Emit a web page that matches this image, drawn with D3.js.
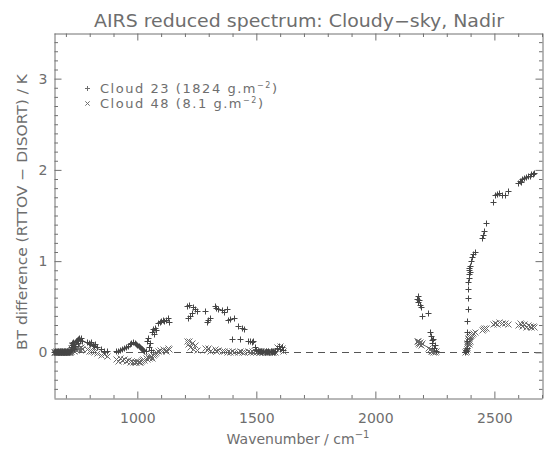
<!DOCTYPE html>
<html>
<head>
<meta charset="utf-8">
<script src="https://cdn.jsdelivr.net/npm/d3@7"></script>
<style>
  html, body { margin: 0; padding: 0; background: #fff; }
  svg { display: block; }
  text { font-family: "DejaVu Sans", sans-serif; fill: #6e6e6e; }
</style>
</head>
<body>
<svg id="chart" width="549" height="451"></svg>
<script>
// AIRS reduced channel set: wavenumber (cm-1)
const wavenumber = [
  651, 653, 655, 657, 659, 661, 663, 665, 667, 668, 670, 672, 674, 676, 678, 680, 682, 684,
  686, 688, 690, 692, 694, 696, 698, 700, 702, 704, 706, 708, 710, 712, 714, 716, 718,
  720, 722, 724, 726, 728, 730, 733, 736, 740, 743, 746, 749, 752, 756, 760, 764, 768,
  790, 795, 800, 806, 812, 818, 824, 830, 846, 858, 872,
  912, 920, 928, 936, 944, 952,
  960, 968, 975, 982, 990, 996, 1000, 1005, 1010, 1015, 1020, 1025, 1030, 1035, 1040, 1045,
  1050, 1055, 1058, 1062, 1066, 1070, 1075, 1080, 1088, 1094, 1100, 1106, 1112, 1120, 1128, 1135,
  1209, 1214, 1218, 1222, 1228, 1234, 1242, 1250,
  1284, 1292, 1298, 1305, 1326, 1332, 1340, 1356, 1365, 1375, 1380, 1388, 1398, 1405,
  1425, 1432, 1440, 1450, 1465, 1472, 1480, 1486, 1494,
  1500, 1505, 1510, 1515, 1520, 1525, 1530, 1535, 1540, 1545, 1550, 1555, 1560, 1565, 1570,
  1575, 1580, 1588, 1594, 1600, 1606, 1610,
  2175, 2178, 2181, 2184, 2187, 2192, 2196, 2221, 2228, 2232, 2236, 2240, 2244, 2248, 2252, 2256,
  2378, 2380, 2382, 2384, 2385, 2386, 2387, 2388, 2389, 2390, 2391, 2392, 2393, 2394, 2395, 2396,
  2398, 2400, 2404, 2410, 2418, 2448, 2452, 2456, 2465, 2494, 2503, 2510, 2520, 2530, 2544, 2557,
  2600, 2606, 2612, 2618, 2625, 2632, 2640, 2648, 2655, 2662, 2668
];

// BT difference RTTOV - DISORT (K), Cloud 23 (1824 g.m-2)
const cloud23 = [
  0.00, 0.00, 0.01, 0.00, 0.00, 0.01, 0.00, 0.00, 0.00, 0.01, 0.00, 0.00, 0.01, 0.00, 0.00, 0.00, 0.01, 0.00,
  0.00, 0.00, 0.01, 0.00, 0.00, 0.00, 0.01, 0.00, 0.00, 0.01, 0.00, 0.00, 0.01, 0.00, 0.00, 0.01, 0.02,
  0.03, 0.06, 0.10, 0.08, 0.11, 0.05, 0.09, 0.04, 0.07, 0.13, 0.14, 0.10, 0.15, 0.16, 0.14, 0.16, 0.13,
  0.11, 0.10, 0.09, 0.11, 0.08, 0.07, 0.09, 0.06, 0.04, 0.02, 0.01,
  0.01, 0.02, 0.03, 0.04, 0.05, 0.06,
  0.07, 0.09, 0.10, 0.11, 0.10, 0.09, 0.08, 0.07, 0.06, 0.05, 0.04, 0.03, 0.02, 0.01, 0.13, 0.16,
  0.06, 0.10, 0.03, 0.22, 0.26, 0.20, 0.27, 0.24, 0.32, 0.33, 0.34, 0.35, 0.34, 0.36, 0.38, 0.33,
  0.51, 0.38, 0.52, 0.40, 0.43, 0.50, 0.47, 0.45,
  0.45, 0.33, 0.36, 0.38, 0.51, 0.49, 0.48, 0.46, 0.44, 0.48, 0.36, 0.37, 0.15, 0.38,
  0.29, 0.15, 0.27, 0.26, 0.12, 0.13, 0.11, 0.12, 0.06,
  0.03, 0.02, 0.01, 0.02, 0.01, 0.00, 0.01, 0.00, 0.01, 0.00, 0.01, 0.00, 0.01, 0.00, 0.01,
  0.00, 0.01, 0.05, 0.07, 0.04, 0.06, 0.03,
  0.58, 0.62, 0.55, 0.57, 0.52, 0.50, 0.40, 0.43, 0.22, 0.18, 0.14, 0.10, 0.15, 0.05, 0.08, 0.02,
  0.00, 0.01, 0.03, 0.05, 0.12, 0.22, 0.34, 0.47, 0.60, 0.69, 0.77, 0.82, 0.86, 0.90, 0.93, 0.95,
  0.88, 1.00, 1.05, 1.08, 1.10, 1.25, 1.29, 1.33, 1.42, 1.65, 1.73, 1.74, 1.75, 1.72, 1.72, 1.77,
  1.86, 1.88, 1.87, 1.90, 1.91, 1.92, 1.93, 1.93, 1.95, 1.96, 1.97
];

// BT difference RTTOV - DISORT (K), Cloud 48 (8.1 g.m-2)
const cloud48 = [
  0.00, 0.00, 0.00, 0.01, 0.00, 0.00, 0.00, 0.01, 0.00, 0.00, 0.00, 0.01, 0.00, 0.00, 0.00, 0.01, 0.00, 0.00,
  0.01, 0.00, 0.00, 0.00, 0.01, 0.00, 0.00, 0.00, 0.01, 0.00, 0.00, 0.00, 0.01, 0.00, 0.00, 0.00, 0.01,
  0.02, 0.05, 0.08, 0.04, 0.06, 0.03, 0.07, 0.02, 0.05, 0.03, 0.06, 0.04, 0.08, 0.05, 0.03, 0.06, 0.04,
  0.04, 0.02, 0.03, 0.01, 0.02, 0.00, 0.01, -0.01, -0.03, -0.02, -0.04,
  -0.07, -0.09, -0.06, -0.08, -0.07, -0.09,
  -0.08, -0.10, -0.09, -0.10, -0.11, -0.10, -0.09, -0.11, -0.10, -0.09, -0.08, -0.07, -0.08, -0.06, -0.07, -0.05,
  -0.06, -0.05, -0.04, -0.06, -0.03, -0.02, -0.01, 0.00, 0.02, 0.03, 0.01, 0.04, 0.03, 0.02, 0.05, 0.04,
  0.12, 0.09, 0.13, 0.06, 0.10, 0.04, 0.08, 0.03,
  0.05, 0.03, 0.05, 0.02, 0.04, 0.02, 0.03, 0.01, 0.02, 0.00, 0.01, 0.00, 0.01, 0.00,
  0.00, 0.01, 0.00, 0.00, 0.01, 0.00, 0.01, 0.00, 0.01,
  0.00, 0.01, 0.00, 0.00, 0.01, 0.00, 0.00, 0.01, 0.00, 0.00, 0.00, 0.01, 0.00, 0.00, 0.00,
  0.01, 0.00, 0.06, 0.04, 0.07, 0.05, 0.02,
  0.12, 0.10, 0.13, 0.09, 0.11, 0.08, 0.10, 0.05, 0.04, 0.02, 0.03, 0.01, 0.00, 0.01, 0.00, 0.01,
  0.00, 0.01, 0.02, 0.04, 0.06, 0.08, 0.10, 0.12, 0.13, 0.15, 0.16, 0.17, 0.14, 0.11, 0.09, 0.12,
  0.18, 0.19, 0.20, 0.21, 0.22, 0.25, 0.26, 0.27, 0.27, 0.31, 0.32, 0.31, 0.33, 0.32, 0.32, 0.31,
  0.30, 0.32, 0.31, 0.29, 0.31, 0.28, 0.30, 0.29, 0.28, 0.29, 0.28
];

const xMajorTicks = [1000, 1500, 2000, 2500];
const yMajorTicks = [0, 1, 2, 3];

const svg = d3.select("#chart");
const plotLeft = 54, plotRight = 542, plotTop = 33, plotBottom = 398;

const x = d3.scaleLinear().domain([650, 2700]).range([plotLeft, plotRight]);
const y = d3.scaleLinear().domain([-0.5, 3.5]).range([plotBottom, plotTop]);

const axisColor = "#707070";
const markColor = "#454545";

// Title
svg.append("text")
  .attr("x", 299).attr("y", 27)
  .attr("text-anchor", "middle")
  .attr("font-size", 17)
  .attr("textLength", 410).attr("lengthAdjust", "spacingAndGlyphs")
  .attr("fill", "#7a7a7a")
  .text("AIRS reduced spectrum: Cloudy\u2212sky, Nadir");

// Zero reference line
svg.append("line")
  .attr("x1", plotLeft).attr("x2", plotRight)
  .attr("y1", Math.round(y(0)) + 0.5).attr("y2", Math.round(y(0)) + 0.5)
  .attr("stroke", "#555").attr("stroke-width", 1)
  .attr("stroke-dasharray", "7,5");

// Axes: inward ticks on all four sides
const xMinor = d3.range(700, 2701, 100).filter(v => !xMajorTicks.includes(v));
const yMinor = d3.range(-4, 35, 1).map(v => v / 10).filter(v => !yMajorTicks.includes(v));

function styleAxis(g) {
  g.select(".domain").attr("stroke", axisColor);
  g.selectAll(".tick line").attr("stroke", axisColor);
  g.selectAll(".tick text").attr("fill", "#777").attr("font-size", 14)
    .attr("font-family", "DejaVu Sans, sans-serif");
}

const gx = svg.append("g").attr("transform", `translate(0,${plotBottom + 0.5})`);
gx.call(d3.axisBottom(x).tickValues(xMinor).tickSize(-3.5).tickFormat("").tickSizeOuter(0)).call(styleAxis);
gx.append("g").call(d3.axisBottom(x).tickValues(xMajorTicks).tickSize(-7).tickPadding(15)
    .tickFormat(d3.format("d")).tickSizeOuter(0)).call(styleAxis)
  .call(g => g.select(".domain").remove());

const gxt = svg.append("g").attr("transform", `translate(0,${plotTop + 0.5})`);
gxt.call(d3.axisTop(x).tickValues(xMinor).tickSize(-3.5).tickFormat("").tickSizeOuter(0)).call(styleAxis);
gxt.append("g").call(d3.axisTop(x).tickValues(xMajorTicks).tickSize(-7).tickFormat("").tickSizeOuter(0)).call(styleAxis)
  .call(g => g.select(".domain").remove());

const gy = svg.append("g").attr("transform", `translate(${plotLeft + 0.5},0)`);
gy.call(d3.axisLeft(y).tickValues(yMinor).tickSize(-3.5).tickFormat("").tickSizeOuter(0)).call(styleAxis);
gy.append("g").call(d3.axisLeft(y).tickValues(yMajorTicks).tickSize(-7).tickPadding(7)
    .tickFormat(d3.format("d")).tickSizeOuter(0)).call(styleAxis)
  .call(g => g.select(".domain").remove());

const gyr = svg.append("g").attr("transform", `translate(${plotRight + 0.5},0)`);
gyr.call(d3.axisRight(y).tickValues(yMinor).tickSize(-3.5).tickFormat("").tickSizeOuter(0)).call(styleAxis);
gyr.append("g").call(d3.axisRight(y).tickValues(yMajorTicks).tickSize(-7).tickFormat("").tickSizeOuter(0)).call(styleAxis)
  .call(g => g.select(".domain").remove());

// Axis titles
const xt = svg.append("text")
  .attr("x", 298).attr("y", 444)
  .attr("text-anchor", "middle").attr("font-size", 14)
  .attr("fill", "#777");
xt.append("tspan").text("Wavenumber / cm");
xt.append("tspan").attr("dy", -6).attr("font-size", 10).text("\u22121");

svg.append("text")
  .attr("transform", "translate(27,212) rotate(-90)")
  .attr("text-anchor", "middle").attr("font-size", 14)
  .attr("textLength", 276).attr("lengthAdjust", "spacingAndGlyphs")
  .attr("fill", "#777")
  .text("BT difference (RTTOV \u2212 DISORT) / K");

// Marker shapes
const plusPath = s => `M${-s},0H${s}M0,${-s}V${s}`;
const crossPath = s => `M${-s},${-s}L${s},${s}M${-s},${s}L${s},${-s}`;

const plotArea = svg.append("g");
const pts23 = wavenumber.map((w, i) => [w, cloud23[i]]);
const pts48 = wavenumber.map((w, i) => [w, cloud48[i]]);

plotArea.selectAll("path.c48").data(pts48).join("path")
  .attr("class", "c48")
  .attr("transform", d => `translate(${Math.round(x(d[0])) + 0.5},${Math.round(y(d[1])) + 0.5})`)
  .attr("d", crossPath(3))
  .attr("fill", "none").attr("stroke", "#6a6a6a").attr("stroke-width", 1);

plotArea.selectAll("path.c23").data(pts23).join("path")
  .attr("class", "c23")
  .attr("transform", d => `translate(${Math.round(x(d[0])) + 0.5},${Math.round(y(d[1])) + 0.5})`)
  .attr("d", plusPath(3))
  .attr("fill", "none").attr("stroke", markColor).attr("stroke-width", 1);

// Legend
const legend = svg.append("g");
const legendRows = [
  { shape: plusPath(2.5), label: "Cloud 23 (1824 g.m", y: 88, width: 177 },
  { shape: crossPath(2.2), label: "Cloud 48 (8.1 g.m", y: 103, width: 163 }
];
legendRows.forEach(r => {
  legend.append("path")
    .attr("transform", `translate(87.5,${r.y + 0.5})`)
    .attr("d", r.shape)
    .attr("fill", "none").attr("stroke", "#6e6e6e").attr("stroke-width", 1);
  const t = legend.append("text")
    .attr("x", 100).attr("y", r.y + 5)
    .attr("font-size", 13)
    .attr("fill", "#777")
    .attr("textLength", r.width).attr("lengthAdjust", "spacing");
  t.append("tspan").text(r.label);
  t.append("tspan").attr("dy", -5).attr("font-size", 8).text("\u22122");
  t.append("tspan").attr("dy", 5).text(")");
});
</script>
</body>
</html>
